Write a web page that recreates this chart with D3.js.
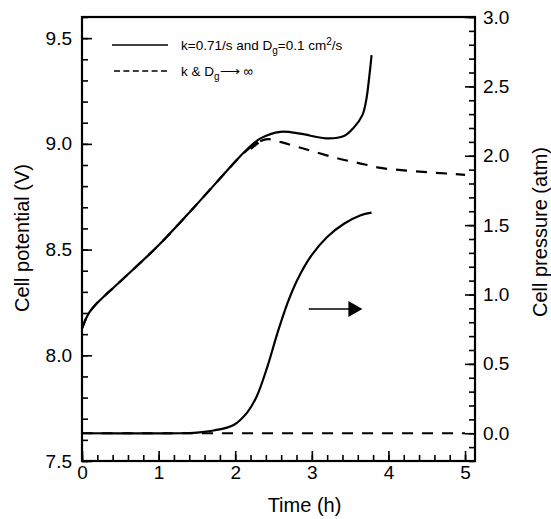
<!DOCTYPE html>
<html>
<head>
<meta charset="utf-8">
<script src="https://cdn.jsdelivr.net/npm/d3@7"></script>
<style>
  body { margin: 0; background: #fff; }
  text { font-family: "Liberation Sans", Arial, Helvetica, sans-serif; fill: #000; }
</style>
</head>
<body>
<svg id="chart"></svg>
<script>
// potential, solid case (k=0.71/s, Dg=0.1 cm2/s)
const timeSolid = [0, 0.05, 0.1, 0.2, 0.3, 0.4, 0.59, 0.98, 1.37, 1.9, 2.02, 2.17, 2.33, 2.59, 2.85, 3.18, 3.42, 3.55, 3.66, 3.71, 3.75, 3.78];
const potSolid  = [8.127, 8.172, 8.205, 8.248, 8.283, 8.316, 8.38, 8.513, 8.663, 8.876, 8.924, 8.979, 9.026, 9.057, 9.048, 9.026, 9.037, 9.078, 9.136, 9.207, 9.318, 9.42];
// potential, k & Dg -> infinity
const timeDash = [0, 0.05, 0.1, 0.2, 0.3, 0.4, 0.59, 0.98, 1.37, 1.9, 2.02, 2.17, 2.3, 2.43, 2.6, 2.8, 3.0, 3.3, 3.6, 3.9, 4.2, 4.5, 4.8, 5.0];
const potDash  = [8.127, 8.172, 8.205, 8.248, 8.283, 8.316, 8.38, 8.513, 8.663, 8.876, 8.924, 8.975, 9.008, 9.022, 9.008, 8.987, 8.966, 8.935, 8.91, 8.886, 8.875, 8.866, 8.859, 8.853];
// pressure
const timePres = [0, 1.28, 1.5, 1.72, 1.98, 2.15, 2.28, 2.42, 2.55, 2.68, 2.81, 2.98, 3.2, 3.42, 3.63, 3.78];
const presSolid = [0, 0, 0.005, 0.02, 0.06, 0.145, 0.265, 0.48, 0.72, 0.935, 1.105, 1.27, 1.415, 1.51, 1.57, 1.59];
const timePresDash = [0, 5.0];
const presDash = [0, 0];
// arrow pointing at right axis
const arrowTime = [2.96, 3.66];
const arrowPres = 0.895;

const xTicks = [0, 1, 2, 3, 4, 5];
const yLeftTicks = [7.5, 8.0, 8.5, 9.0, 9.5];
const yRightTicks = [0, 0.5, 1.0, 1.5, 2.0, 2.5, 3.0];

const width = 551, height = 519;
const margin = {top: 17, right: 76, bottom: 58, left: 82};
const w = width - margin.left - margin.right;
const h = height - margin.top - margin.bottom;

const svg = d3.select("#chart").attr("width", width).attr("height", height);
const g = svg.append("g").attr("transform", `translate(${margin.left},${margin.top})`);

const x = d3.scaleLinear().domain([0, 5.13]).range([0, w]);
const yL = d3.scaleLinear().domain([7.5, 9.6]).range([h, 0]);
const yR = d3.scaleLinear().domain([-0.2, 3.0]).range([h, 0]);

const fmt = d3.format(".1f");
const minor = (a, b, s) => d3.range(Math.round((b - a) / s) + 1).map(i => +(a + i * s).toFixed(3));

// minor ticks
g.append("g").call(d3.axisBottom(x).tickValues(minor(0, 5, 0.2)).tickSize(-6).tickFormat(""))
  .attr("transform", `translate(0,${h})`).attr("class", "ax");
g.append("g").call(d3.axisLeft(yL).tickValues(minor(7.5, 9.6, 0.1)).tickSize(-6).tickFormat(""))
  .attr("class", "ax");
g.append("g").call(d3.axisRight(yR).tickValues(minor(-0.2, 3.0, 0.1)).tickSize(-6).tickFormat(""))
  .attr("transform", `translate(${w},0)`).attr("class", "ax");

// major ticks
g.append("g").attr("class", "ax").attr("transform", `translate(0,${h})`)
  .call(d3.axisBottom(x).tickValues(xTicks).tickSize(-10).tickPadding(5).tickFormat(d3.format("d")));
g.append("g").attr("class", "ax")
  .call(d3.axisLeft(yL).tickValues(yLeftTicks).tickSize(-10).tickPadding(10).tickFormat(fmt));
g.append("g").attr("class", "ax").attr("transform", `translate(${w},0)`)
  .call(d3.axisRight(yR).tickValues(yRightTicks).tickSize(-10).tickPadding(8).tickFormat(fmt));

g.selectAll(".ax .domain").remove();
g.selectAll(".ax line").attr("stroke", "#000").attr("stroke-width", 1.6);
g.selectAll(".ax text").attr("font-size", 19).attr("fill", "#000")
  .style("font-family", '"Liberation Sans", Arial, sans-serif');

// frame
g.append("rect").attr("width", w).attr("height", h)
  .attr("fill", "none").attr("stroke", "#000").attr("stroke-width", 2.2);

const curve = d3.curveCatmullRom.alpha(0.5);
const lineL = d3.line().x(d => x(d[0])).y(d => yL(d[1])).curve(curve);
const lineR = d3.line().x(d => x(d[0])).y(d => yR(d[1])).curve(curve);

g.append("path").datum(d3.zip(timeDash, potDash)).attr("d", lineL)
  .attr("fill", "none").attr("stroke", "#000").attr("stroke-width", 2.2).attr("stroke-dasharray", "11,9");
g.append("path").datum(d3.zip(timeSolid, potSolid)).attr("d", lineL)
  .attr("fill", "none").attr("stroke", "#000").attr("stroke-width", 2.2);

g.append("path").datum(d3.zip(timePresDash, presDash)).attr("d", lineR)
  .attr("fill", "none").attr("stroke", "#000").attr("stroke-width", 2.2).attr("stroke-dasharray", "11,9");
g.append("path").datum(d3.zip(timePres, presSolid)).attr("d", lineR)
  .attr("fill", "none").attr("stroke", "#000").attr("stroke-width", 2.2);

// small left-pointing mark on the potential curve
g.append("path")
  .attr("d", `M${x(2.3)},${yL(9.008)} L${x(2.2)},${yL(8.978)}`)
  .attr("stroke", "#000").attr("stroke-width", 3.2);

// arrow
const ax0 = x(arrowTime[0]), ax1 = x(arrowTime[1]), ay = yR(arrowPres);
g.append("line").attr("x1", ax0).attr("x2", ax1 - 12).attr("y1", ay).attr("y2", ay)
  .attr("stroke", "#000").attr("stroke-width", 1.4);
g.append("path").attr("d", `M${ax1},${ay} L${ax1 - 14},${ay - 8} L${ax1 - 14},${ay + 8} Z`).attr("fill", "#000");

// legend
const leg = g.append("g");
leg.append("line").attr("x1", 112 - margin.left).attr("x2", 168 - margin.left)
  .attr("y1", 45 - margin.top).attr("y2", 45 - margin.top).attr("stroke", "#000").attr("stroke-width", 1.6);
leg.append("line").attr("x1", 114 - margin.left).attr("x2", 168 - margin.left)
  .attr("y1", 71 - margin.top).attr("y2", 71 - margin.top).attr("stroke", "#000").attr("stroke-width", 1.6)
  .attr("stroke-dasharray", "6,3.4");
const t1 = leg.append("text").attr("x", 181 - margin.left).attr("y", 50 - margin.top).attr("font-size", 13.5);
t1.append("tspan").text("k=0.71/s and D");
t1.append("tspan").attr("font-size", 10).attr("dy", 4).text("g");
t1.append("tspan").attr("dy", -4).text("=0.1 cm");
t1.append("tspan").attr("font-size", 10).attr("dy", -5).text("2");
t1.append("tspan").attr("dy", 5).text("/s");
const t2 = leg.append("text").attr("x", 181 - margin.left).attr("y", 76 - margin.top).attr("font-size", 13.5);
t2.append("tspan").text("k & D");
t2.append("tspan").attr("font-size", 10).attr("dy", 4).text("g");
t2.append("tspan").attr("dy", -4).text("\u27F6 \u221E");

// axis titles
svg.append("text").attr("x", margin.left + w / 2 + 26).attr("y", 512)
  .attr("text-anchor", "middle").attr("font-size", 20).text("Time (h)");
svg.append("text").attr("transform", `translate(29,238) rotate(-90)`)
  .attr("text-anchor", "middle").attr("font-size", 20).text("Cell potential (V)");
svg.append("text").attr("transform", `translate(547,232) rotate(-90)`)
  .attr("text-anchor", "middle").attr("font-size", 20).text("Cell pressure (atm)");
</script>
</body>
</html>
